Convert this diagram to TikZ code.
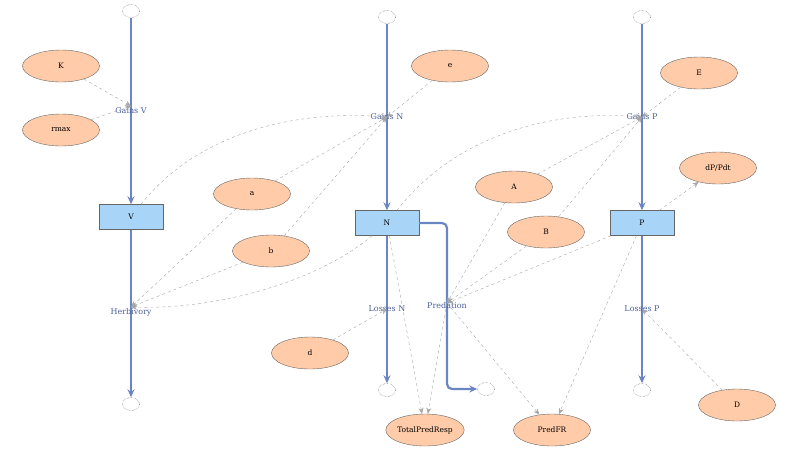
\documentclass[tikz,border=0pt]{standalone}
\usepackage{fontspec}
\setmainfont{DejaVu Serif}
\usetikzlibrary{arrows.meta,shapes.geometric}
\definecolor{flowc}{HTML}{6A86C2}
\definecolor{stockf}{HTML}{A8D4F8}
\definecolor{auxf}{HTML}{FFCBA8}
\definecolor{lab}{HTML}{4A5F9A}
\begin{document}
\begin{tikzpicture}[x=1pt,y=-1pt,font=\fontsize{7.5}{8}\selectfont,
 stock/.style={draw=black!60,fill=stockf,minimum width=64pt,minimum height=25pt,inner sep=0pt},
 aux/.style={ellipse,draw=black!60,fill=auxf,minimum width=77pt,minimum height=32pt,inner sep=0pt},
 cloud/.style={ellipse,draw=black!70,densely dotted,fill=white,minimum width=17pt,minimum height=13pt,inner sep=0pt},
 flowlab/.style={text=lab,inner sep=1pt,font=\fontsize{8}{9}\selectfont},
 flow/.style={draw=flowc,line width=2.2pt,-{Stealth[length=8pt,width=7pt]}},
 link/.style={draw=black!35,dashed,thin,-{Stealth[length=6pt,width=5pt]}}]
\useasboundingbox (0,0) rectangle (800,461);
% clouds
\node[cloud] (cV1) at (131,11) {};
\node[cloud] (cV2) at (131,404) {};
\node[cloud] (cN1) at (387,17) {};
\node[cloud] (cN2) at (387,390) {};
\node[cloud] (cP1) at (642,17) {};
\node[cloud] (cP2) at (642,390) {};
\node[cloud] (cPr) at (486,389) {};
% stocks
\node[stock] (V) at (131,217) {V};
\node[stock] (N) at (387,223) {N};
\node[stock] (P) at (642,223) {P};
\coordinate (hbc) at (131,307);
\coordinate (gVc) at (131,106);
\coordinate (gNc) at (387,117);
\coordinate (gPc) at (642,117);
\coordinate (lNc) at (387,309);
\coordinate (lPc) at (642,309);
\coordinate (prc) at (447,303);
% flows
\draw[flow] (cV1) -- (V);
\draw[flow] (V) -- (cV2);
\draw[flow] (cN1) -- (N);
\draw[flow] (N) -- (cN2);
\draw[flow] (cP1) -- (P);
\draw[flow] (P) -- (cP2);
\draw[flow,rounded corners=5pt] (N.east) -- (447,223) -- (447,389) -- (cPr);
% flow labels
\node[flowlab] (gV) at (131,111) {Gains V};
\node[flowlab] (hb) at (131,312) {Herbivory};
\node[flowlab] (gN) at (387,117) {Gains N};
\node[flowlab] (lN) at (387,309) {Losses N};
\node[flowlab] (gP) at (642,117) {Gains P};
\node[flowlab] (lP) at (642,309) {Losses P};
\node[flowlab] (pr) at (447,306) {Predation};
% aux
\node[aux] (K) at (61,66) {K};
\node[aux] (rmax) at (61,130) {rmax};
\node[aux] (e) at (450,66) {e};
\node[aux] (a) at (252,194) {a};
\node[aux] (b) at (271,251) {b};
\node[aux] (d) at (310,353) {d};
\node[aux] (A) at (514,187) {A};
\node[aux] (B) at (546,232) {B};
\node[aux] (E) at (699,73) {E};
\node[aux] (dP) at (718,168) {dP/Pdt};
\node[aux] (D) at (737,405) {D};
\node[aux] (TPR) at (425,430) {TotalPredResp};
\node[aux] (PFR) at (552,430) {PredFR};
% links
\draw[link] (K) -- (gVc);
\draw[link] (rmax) -- (gVc);
\draw[link] (V) .. controls (200,130) and (300,110) .. (gNc);
\draw[link] (N) .. controls (460,130) and (560,110) .. (gPc);
\draw[link] (e) -- (gNc);
\draw[link] (a) -- (gNc);
\draw[link] (b) -- (gNc);
\draw[link] (a) -- (hbc);
\draw[link] (b) -- (hbc);
\draw[link] (N) .. controls (320,280) and (220,310) .. (hbc);
\draw[link] (d) -- (lNc);
\draw[link] (D) -- (lPc);
\draw[link] (E) -- (gPc);
\draw[link] (A) -- (gPc);
\draw[link] (B) -- (gPc);
\draw[link] (P) -- (dP);
\draw[link] (A) -- (prc);
\draw[link] (B) -- (prc);
\draw[link] (P) -- (prc);
\draw[link] (prc) -- (TPR);
\draw[link] (prc) -- (PFR);
\draw[link] (N) -- (TPR);
\draw[link] (P) -- (PFR);
\end{tikzpicture}
\end{document}
